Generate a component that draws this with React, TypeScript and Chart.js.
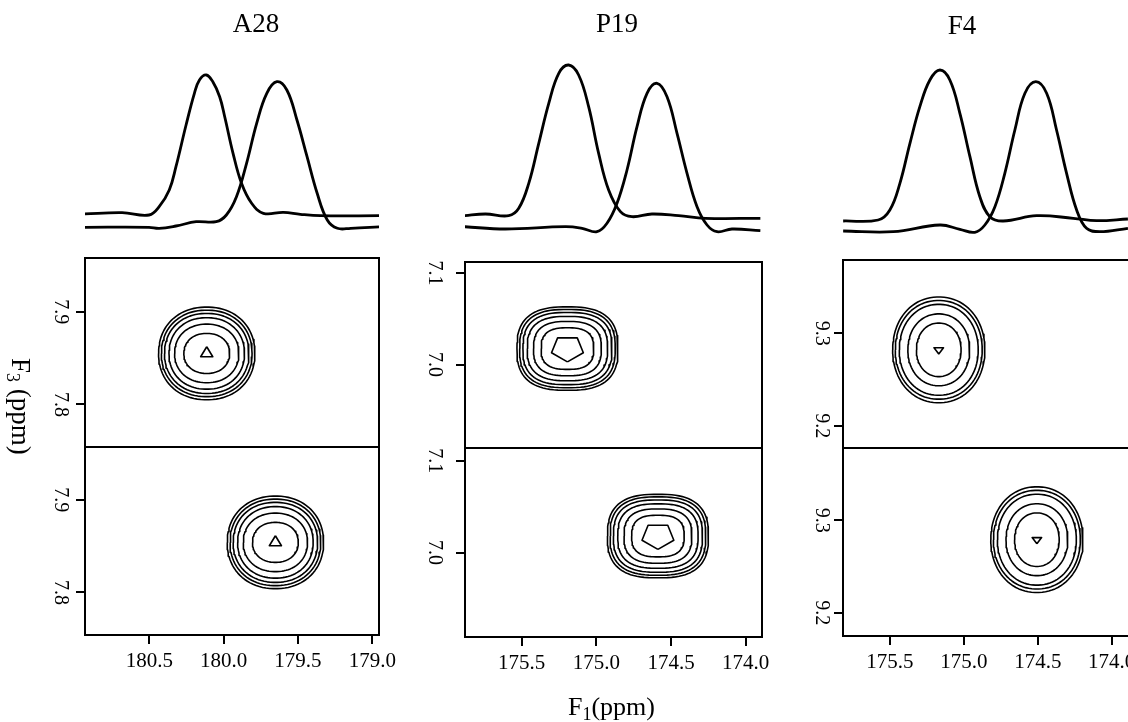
import React, { useEffect, useRef } from 'react';
import { Chart, registerables } from 'chart.js';

Chart.register(...registerables);

const SERIF = '"Liberation Serif", "DejaVu Serif", serif';

// ---------------- ticks ----------------
const A28_F1_TICKS = [180.5, 180.0, 179.5, 179.0];
const P19_F1_TICKS = [175.5, 175.0, 174.5, 174.0];
const F4_F1_TICKS = [175.5, 175.0, 174.5, 174.0];
const A28_F3_TICKS = [7.8, 7.9];
const P19_F3_TICKS = [7.0, 7.1];
const F4_F3_TICKS = [9.2, 9.3];

// ---------------- 1D traces (F1 ppm, intensity) ----------------
const A28_TRACE1_PPM = [180.943, 180.683, 180.502, 180.434, 180.366, 180.321, 180.253, 180.197, 180.163, 180.117, 180.073, 180.027, 179.993, 179.937, 179.88, 179.812, 179.733, 179.598, 179.484, 179.349, 178.942];
const A28_TRACE1_INT = [26, 27.3, 25, 33.3, 50, 73.3, 115, 146.7, 160, 165, 158.3, 143.3, 123.3, 86.7, 56.7, 36.7, 26.7, 27.7, 25.7, 24.3, 24.3];
const A28_TRACE2_PPM = [180.943, 180.502, 180.434, 180.321, 180.185, 180.05, 179.982, 179.914, 179.846, 179.778, 179.71, 179.642, 179.575, 179.507, 179.439, 179.371, 179.303, 179.235, 179.145, 178.942];
const A28_TRACE2_INT = [12.7, 12.7, 11.7, 14, 18.3, 18.3, 25, 43.3, 76.7, 116.7, 146.7, 158.3, 150, 120, 83.3, 46.7, 20, 11.7, 11.7, 13.3];

const P19_TRACE1_PPM = [175.889, 175.743, 175.587, 175.52, 175.453, 175.386, 175.319, 175.252, 175.186, 175.119, 175.052, 174.985, 174.918, 174.839, 174.762, 174.628, 174.449, 174.27, 173.902];
const P19_TRACE1_INT = [24.3, 26, 24.3, 31.7, 56.7, 96.7, 136.7, 166.7, 175, 165, 133.3, 86.7, 50, 28.3, 23.3, 26, 24.3, 21.7, 21.7];
const P19_TRACE2_PPM = [175.889, 175.61, 175.208, 175.096, 174.996, 174.929, 174.862, 174.795, 174.728, 174.661, 174.594, 174.527, 174.46, 174.393, 174.326, 174.259, 174.192, 174.092, 173.902];
const P19_TRACE2_INT = [13.3, 11, 13.3, 11.7, 8.3, 16.7, 36.7, 70, 113.3, 146.7, 156.7, 143.3, 106.7, 66.7, 33.3, 15, 8.3, 11, 9.3];

const F4_TRACE1_PPM = [175.817, 175.58, 175.501, 175.433, 175.365, 175.298, 175.23, 175.162, 175.095, 175.027, 174.959, 174.892, 174.824, 174.734, 174.508, 174.26, 174.102, 173.89];
const F4_TRACE1_INT = [19, 20, 30, 56.7, 96.7, 133.3, 160, 170, 160, 126.7, 83.3, 43.3, 23.3, 19, 24.3, 21.7, 19.3, 21];
const F4_TRACE2_PPM = [175.817, 175.478, 175.162, 175.027, 174.926, 174.858, 174.79, 174.723, 174.655, 174.587, 174.513, 174.44, 174.373, 174.305, 174.237, 174.17, 174.08, 173.89];
const F4_TRACE2_INT = [9, 8.3, 15, 10.7, 7.7, 15, 33.3, 66.7, 110, 146.7, 158.3, 146.7, 110, 66.7, 30, 11.7, 8.3, 11.7];

// ---------------- 2D cross peaks (centres and contour half-widths, ppm) ----------------
const A28_F1_CENTERS = [180.114, 179.652];
const A28_F3_CENTERS = [7.855, 7.854];
const A28_F1_HALF = [0.324, 0.305, 0.284, 0.254, 0.216, 0.154, 0.047];
const A28_F3_HALF = [0.05, 0.0467, 0.0432, 0.0386, 0.0316, 0.0216, 0.0072];

const P19_F1_CENTERS = [175.194, 174.588];
const P19_F3_CENTERS = [7.0175, 7.018];
const P19_F1_HALF = [0.338, 0.32, 0.298, 0.269, 0.227, 0.176, 0.112];
const P19_F3_HALF = [0.0455, 0.0427, 0.0394, 0.0351, 0.0296, 0.0227, 0.0145];

const F4_F1_CENTERS = [175.17, 174.506];
const F4_F3_CENTERS = [9.282, 9.279];
const F4_F1_HALF = [0.312, 0.294, 0.267, 0.209, 0.151, 0.037];
const F4_F3_HALF = [0.0571, 0.0533, 0.0491, 0.0388, 0.0289, 0.0045];

type TextPart = { t: string; size: number; dy?: number };
type TextItem = { parts: TextPart[]; x: number; y: number; rotate?: number; align?: 'left' | 'center' };

function ringPoints(cx: number, cy: number, a: number, b: number, n: number, count: number, startDeg: number) {
  const pts: { x: number; y: number }[] = [];
  const e = 2 / n;
  for (let i = 0; i <= count; i++) {
    const t = (startDeg * Math.PI) / 180 + (i / count) * 2 * Math.PI;
    const c = Math.cos(t);
    const s = Math.sin(t);
    pts.push({
      x: cx + a * Math.sign(c) * Math.pow(Math.abs(c), e),
      y: cy + b * Math.sign(s) * Math.pow(Math.abs(s), e),
    });
  }
  return pts;
}

function textPlugin(items: TextItem[]) {
  return {
    id: 'panelText',
    afterDraw(chart: any) {
      const ctx = chart.ctx as CanvasRenderingContext2D;
      ctx.save();
      ctx.fillStyle = '#000';
      ctx.textBaseline = 'alphabetic';
      ctx.textAlign = 'left';
      for (const it of items) {
        let total = 0;
        for (const p of it.parts) {
          ctx.font = `${p.size}px ${SERIF}`;
          total += ctx.measureText(p.t).width;
        }
        ctx.save();
        ctx.translate(it.x, it.y);
        if (it.rotate) ctx.rotate(it.rotate);
        let cx = it.align === 'center' ? -total / 2 : 0;
        for (const p of it.parts) {
          ctx.font = `${p.size}px ${SERIF}`;
          ctx.fillText(p.t, cx, p.dy || 0);
          cx += ctx.measureText(p.t).width;
        }
        ctx.restore();
      }
      ctx.restore();
    },
  };
}

const framePlugin = {
  id: 'frame',
  afterDatasetsDraw(chart: any) {
    const { ctx, chartArea } = chart;
    const y1 = chart.scales.y1;
    const y2 = chart.scales.y2;
    ctx.save();
    ctx.strokeStyle = '#000';
    ctx.lineWidth = 2;
    ctx.strokeRect(chartArea.left, y1.top, chartArea.right - chartArea.left, y2.bottom - y1.top);
    ctx.beginPath();
    ctx.moveTo(chartArea.left, y1.bottom);
    ctx.lineTo(chartArea.right, y1.bottom);
    ctx.stroke();
    ctx.restore();
  },
};

type PanelCfg = {
  left: number;
  width: number;
  padLeft: number;
  padRight: number;
  padBottom: number;
  xMin: number;
  xMax: number;
  xTicks: number[];
  yTMin: number;
  yTMax: number;
  wT: number;
  w1: number;
  w2: number;
  y1: number[];
  y2: number[];
  yTicks: number[];
  yPad: number;
  traces: number[][][];
  f1Centers: number[];
  f3Centers: number[];
  f1Half: number[];
  f3Half: number[];
  shapeN: number;
  innerVerts: number;
  innerStart: number;
  texts: TextItem[];
};

const PANELS: PanelCfg[] = [
  {
    left: 0, width: 409, padLeft: 25, padRight: 30, padBottom: 47,
    xMin: 178.955, xMax: 180.933, xTicks: A28_F1_TICKS,
    yTMin: -18, yTMax: 190, wT: 208, w1: 189, w2: 188,
    y1: [7.754, 7.958], y2: [7.754, 7.957], yTicks: A28_F3_TICKS, yPad: 3,
    traces: [[A28_TRACE1_PPM, A28_TRACE1_INT], [A28_TRACE2_PPM, A28_TRACE2_INT]],
    f1Centers: A28_F1_CENTERS, f3Centers: A28_F3_CENTERS, f1Half: A28_F1_HALF, f3Half: A28_F3_HALF,
    shapeN: 2.15, innerVerts: 3, innerStart: 90,
    texts: [
      { parts: [{ t: 'A28', size: 27 }], x: 256, y: 32, align: 'center' },
      { parts: [{ t: 'F', size: 27 }, { t: '3', size: 18, dy: 5 }, { t: ' (ppm)', size: 27 }], x: 12, y: 358, rotate: Math.PI / 2 },
    ],
  },
  {
    left: 405, width: 387, padLeft: 0, padRight: 30, padBottom: 45,
    xMin: 173.891, xMax: 175.88, xTicks: P19_F1_TICKS,
    yTMin: -22, yTMax: 190, wT: 212, w1: 186, w2: 189,
    y1: [6.909, 7.112], y2: [6.908, 7.114], yTicks: P19_F3_TICKS, yPad: 9,
    traces: [[P19_TRACE1_PPM, P19_TRACE1_INT], [P19_TRACE2_PPM, P19_TRACE2_INT]],
    f1Centers: P19_F1_CENTERS, f3Centers: P19_F3_CENTERS, f1Half: P19_F1_HALF, f3Half: P19_F3_HALF,
    shapeN: 2.7, innerVerts: 5, innerStart: -90,
    texts: [
      { parts: [{ t: 'P19', size: 27 }], x: 212, y: 32, align: 'center' },
      { parts: [{ t: 'F', size: 26 }, { t: '1', size: 18, dy: 5 }, { t: '(ppm)', size: 26 }], x: 163, y: 715 },
    ],
  },
  {
    left: 783, width: 386, padLeft: 0, padRight: 30, padBottom: 46,
    xMin: 173.815, xMax: 175.818, xTicks: F4_F1_TICKS,
    yTMin: -20, yTMax: 190, wT: 210, w1: 188, w2: 188,
    y1: [9.176, 9.379], y2: [9.175, 9.378], yTicks: F4_F3_TICKS, yPad: 0,
    traces: [[F4_TRACE1_PPM, F4_TRACE1_INT], [F4_TRACE2_PPM, F4_TRACE2_INT]],
    f1Centers: F4_F1_CENTERS, f3Centers: F4_F3_CENTERS, f1Half: F4_F1_HALF, f3Half: F4_F3_HALF,
    shapeN: 2.1, innerVerts: 3, innerStart: -90,
    texts: [{ parts: [{ t: 'F4', size: 27 }], x: 179, y: 34, align: 'center' }],
  },
];

function buildChart(canvas: HTMLCanvasElement, cfg: PanelCfg) {
  const datasets: any[] = [];
  cfg.traces.forEach(([ppm, inten]) => {
    datasets.push({
      data: ppm.map((x, i) => ({ x, y: inten[i] })),
      yAxisID: 'yT',
      borderColor: '#000',
      borderWidth: 2.8,
      pointRadius: 0,
      tension: 0.4,
      fill: false,
      borderJoinStyle: 'round',
    });
  });
  cfg.f1Centers.forEach((cx, pi) => {
    const cy = cfg.f3Centers[pi];
    const axis = pi === 0 ? 'y1' : 'y2';
    cfg.f1Half.forEach((a, k) => {
      const b = cfg.f3Half[k];
      const inner = k === cfg.f1Half.length - 1;
      const pts = inner
        ? ringPoints(cx, cy, a, b, 2, cfg.innerVerts, cfg.innerStart)
        : ringPoints(cx, cy, a, b, cfg.shapeN, 90, 0);
      datasets.push({
        data: pts,
        yAxisID: axis,
        borderColor: '#000',
        borderWidth: 1.6,
        pointRadius: 0,
        tension: 0,
        fill: false,
        borderJoinStyle: 'round',
      });
    });
  });

  const tickFmt = (v: any) => Number(v).toFixed(1);
  const yAxis = (range: number[], weight: number, stackWeight: number) => ({
    type: 'linear',
    position: 'left',
    stack: 'v',
    stackWeight,
    weight,
    min: range[0],
    max: range[1],
    afterBuildTicks: (s: any) => {
      s.ticks = cfg.yTicks.map((v) => ({ value: v }));
    },
    afterFit: (s: any) => {
      s.width = 60;
    },
    ticks: {
      minRotation: -90,
      maxRotation: -90,
      crossAlign: 'center',
      padding: cfg.yPad,
      autoSkip: false,
      callback: tickFmt,
      color: '#000',
      font: { family: SERIF, size: 20 },
    },
    grid: { drawOnChartArea: false, drawTicks: true, tickLength: 9, color: '#000', lineWidth: 2 },
    border: { display: false },
  });

  return new Chart(canvas, {
    type: 'line',
    data: { datasets },
    options: {
      animation: false,
      responsive: false,
      events: [],
      layout: { padding: { left: cfg.padLeft, right: cfg.padRight, top: 50, bottom: cfg.padBottom } },
      plugins: { legend: { display: false }, tooltip: { enabled: false }, title: { display: false } },
      scales: {
        x: {
          type: 'linear',
          position: 'bottom',
          reverse: true,
          min: cfg.xMin,
          max: cfg.xMax,
          afterBuildTicks: (s: any) => {
            s.ticks = cfg.xTicks.map((v) => ({ value: v }));
          },
          afterFit: (s: any) => {
            s.height = 40;
          },
          ticks: {
            autoSkip: false,
            maxRotation: 0,
            minRotation: 0,
            padding: 5,
            callback: tickFmt,
            color: '#000',
            font: { family: SERIF, size: 21 },
          },
          grid: { drawOnChartArea: false, drawTicks: true, tickLength: 9, color: '#000', lineWidth: 2 },
          border: { display: false },
        },
        yT: {
          type: 'linear',
          position: 'left',
          display: false,
          stack: 'v',
          stackWeight: cfg.wT,
          weight: 3,
          min: cfg.yTMin,
          max: cfg.yTMax,
        },
        y1: yAxis(cfg.y1, 2, cfg.w1),
        y2: yAxis(cfg.y2, 1, cfg.w2),
      },
    } as any,
    plugins: [framePlugin, textPlugin(cfg.texts)],
  });
}

function Panel({ cfg }: { cfg: PanelCfg }) {
  const ref = useRef<HTMLCanvasElement | null>(null);
  useEffect(() => {
    if (!ref.current) return;
    const chart = buildChart(ref.current, cfg);
    return () => chart.destroy();
  }, [cfg]);
  return (
    <canvas
      ref={ref}
      width={cfg.width}
      height={722}
      style={{ position: 'absolute', left: cfg.left, top: 0, width: cfg.width, height: 722 }}
    />
  );
}

export default function App() {
  return (
    <div
      style={{
        position: 'fixed',
        left: 0,
        top: 0,
        width: 1128,
        height: 722,
        overflow: 'hidden',
        background: '#fff',
      }}
    >
      {PANELS.map((cfg, i) => (
        <Panel key={i} cfg={cfg} />
      ))}
    </div>
  );
}
